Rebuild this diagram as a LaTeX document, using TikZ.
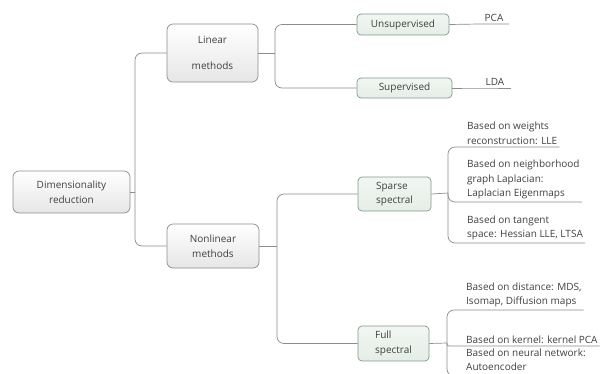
\documentclass[tikz,border=0pt]{standalone}
\usepackage{fontspec}
\setmainfont{Open Sans}
\usepackage{xcolor}
\usetikzlibrary{positioning,calc}
\definecolor{borda}{HTML}{8C8C8C}
\definecolor{bordaverde}{HTML}{7F9A8C}
\definecolor{texto}{HTML}{404040}
\definecolor{cinzaclaro}{HTML}{E6E6E6}
\definecolor{verdeclaro}{HTML}{E4EEE6}
\tikzset{
    topico/.style={
        rectangle,
        draw=borda,
        line width=0.7pt,
        rounded corners=6pt,
        align=center,
        inner sep=2pt,
        text=texto,
        top color=white,
        bottom color=cinzaclaro
    },
    subtopico/.style={topico, draw=bordaverde, rounded corners=4pt,
        top color=verdeclaro!50!white, bottom color=verdeclaro},
    folha/.style={
        anchor=south west,
        align=left,
        inner xsep=2pt,
        inner ysep=2.5pt,
        text=texto
    },
    ligacao/.style={draw=borda, line width=0.7pt, rounded corners=7pt}
}
\begin{document}
\begin{tikzpicture}[
        x=1pt, y=-1pt,
        every node/.style={font=\fontsize{10}{14.5}\selectfont}
    ]
        \useasboundingbox (0,0) rectangle (603,373);
        \clip (0,0) rectangle (603,373);

        % caixas principais
        \node[topico, minimum width=117pt, minimum height=42pt] (raiz) at (71.5,192) {Dimensionality\\reduction};
        \node[topico, minimum width=91pt, minimum height=58pt] (linear) at (212.5,53) {Linear\\[12pt]methods};
        \node[topico, minimum width=92pt, minimum height=44pt] (naolinear) at (213,246) {Nonlinear\\methods};

        \node[subtopico, minimum width=92pt, minimum height=21pt] (naosup) at (403,24.5) {Unsupervised};
        \node[subtopico, minimum width=95pt, minimum height=20pt] (sup) at (404.5,88) {Supervised};
        \node[subtopico, minimum width=73pt, minimum height=34pt, align=left] (esparso) at (394.5,194) {Sparse\\spectral};
        \node[subtopico, minimum width=71pt, minimum height=35pt, align=left] (completo) at (393.5,343.5) {Full\\spectral};

        % folhas
        \node[folha, anchor=south, minimum width=30pt] (pca) at (494,24) {PCA};
        \node[folha, anchor=south, minimum width=32pt] (lda) at (495,88) {LDA};

        \node[folha] (pesos) at (465,147) {Based on weights\\reconstruction: LLE};
        \node[folha] (vizinhanca) at (465,202) {Based on neighborhood\\graph Laplacian:\\Laplacian Eigenmaps};
        \node[folha] (tangente) at (465,243) {Based on tangent\\space: Hessian LLE, LTSA};

        \node[folha] (distancia) at (464,310) {Based on distance: MDS,\\Isomap, Diffusion maps};
        \node[folha] (kernel) at (464,346) {Based on kernel: kernel PCA};
        \node[folha, inner ysep=5pt] (rede) at (464,376) {Based on neural network:\\Autoencoder};

        % pontos de ramificacao
        \coordinate (jraiz) at (135,192);
        \coordinate (jlinear) at (275,53);
        \coordinate (jnaolinear) at (277,246);
        \coordinate (jesparso) at (448,193);
        \coordinate (jcompleto) at (447,343);

        \draw[ligacao] (raiz.east) -- (jraiz);
        \draw[ligacao] (jraiz) |- (linear.west);
        \draw[ligacao] (jraiz) |- (naolinear.west);

        \draw[ligacao] (linear.east) -- (jlinear);
        \draw[ligacao] (jlinear) |- (naosup.west);
        \draw[ligacao] (jlinear) |- (sup.west);

        \draw[ligacao] (naolinear.east) -- (jnaolinear);
        \draw[ligacao] (jnaolinear) |- (esparso.west);
        \draw[ligacao] (jnaolinear) |- (completo.west);

        \draw[ligacao] (naosup.east) -- (pca.south west) -- (pca.south east);
        \draw[ligacao] (sup.east) -- (lda.south west) -- (lda.south east);

        \draw[ligacao] (esparso.east) -- (jesparso);
        \draw[ligacao] (jesparso) |- (pesos.south east);
        \draw[ligacao] (jesparso) |- (vizinhanca.south east);
        \draw[ligacao] (jesparso) |- (tangente.south east);

        \draw[ligacao] (completo.east) -- (jcompleto);
        \draw[ligacao] (jcompleto) |- (distancia.south east);
        \draw[ligacao, rounded corners=2pt] (jcompleto) |- (kernel.south east);
        \draw[ligacao] (jcompleto) |- (rede.south east);
    \end{tikzpicture}
\end{document}
